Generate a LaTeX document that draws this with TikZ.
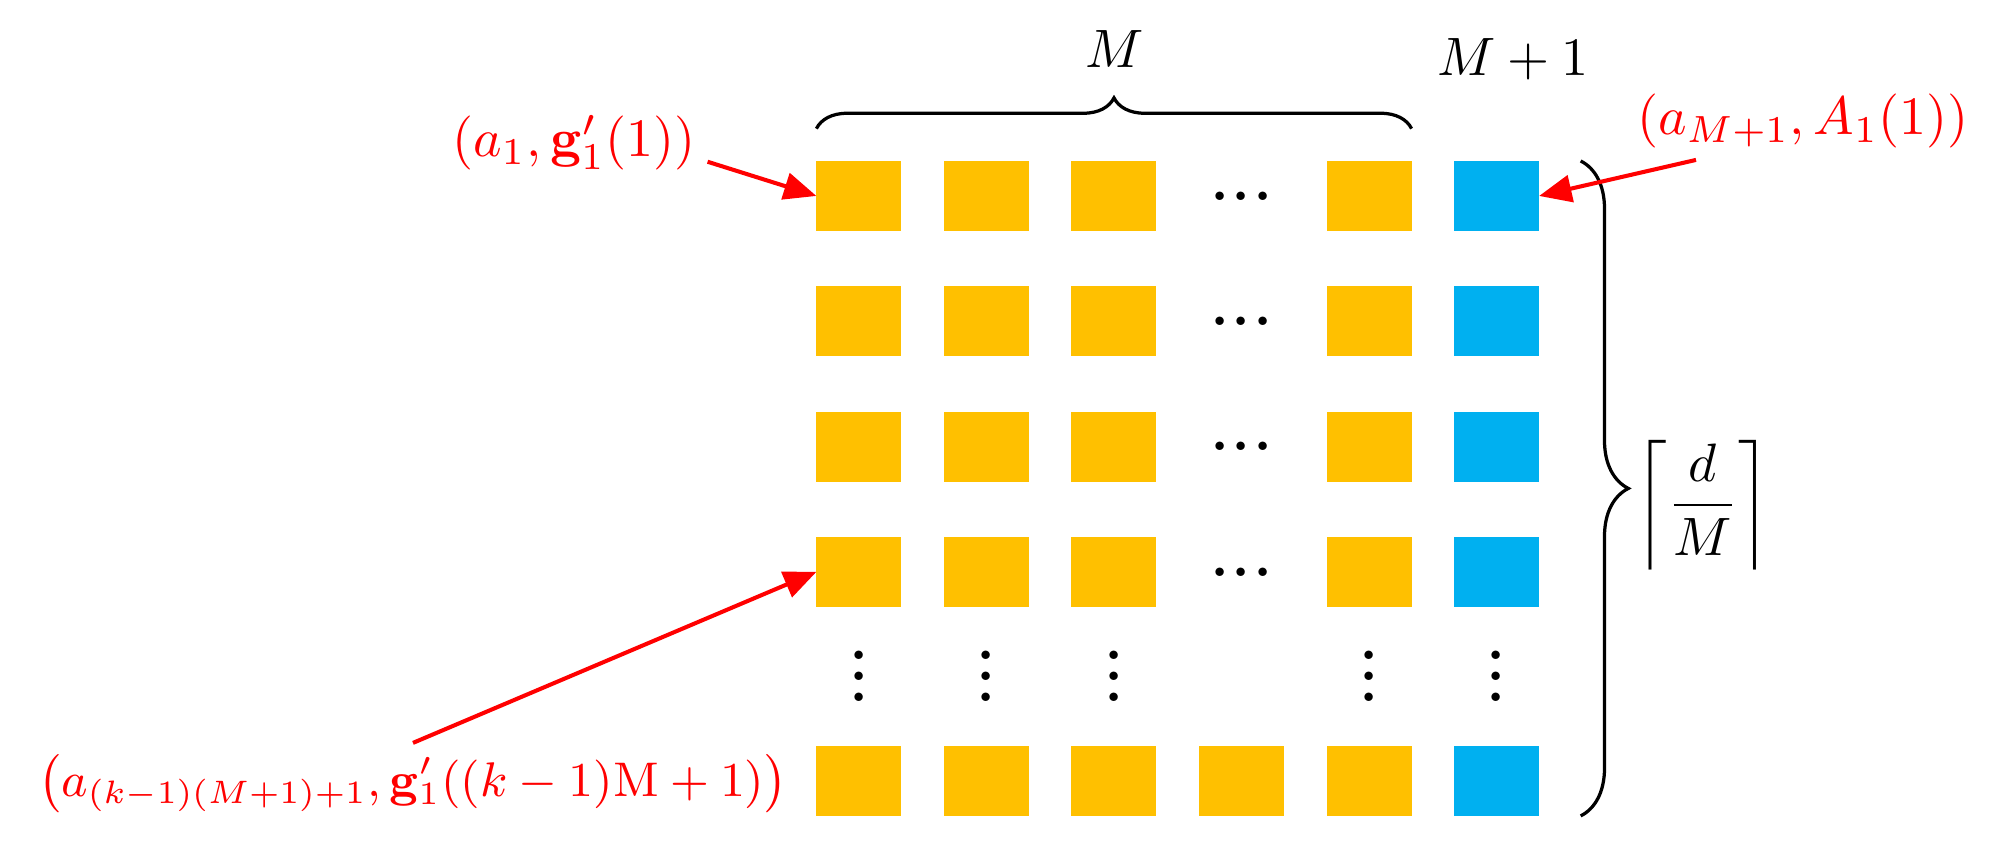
\documentclass[tikz,border=0pt]{standalone}
\usepackage{amsmath}
\usepackage{tikz}
\usetikzlibrary{matrix}
\usetikzlibrary{positioning}
\usetikzlibrary{arrows.meta}
\usetikzlibrary{decorations.pathreplacing}

\definecolor{cellgold}{HTML}{FFC000}
\definecolor{cellblue}{HTML}{00B0F0}

\newcommand{\hdotrow}{\hbox{\bfseries .\kern0.8pt.\kern0.8pt.}}
\newcommand{\vdotcol}{\vbox{\bfseries\baselineskip=3.9pt\lineskiplimit=0pt\hbox{.}\hbox{.}\hbox{.}}}

\begin{document}
\begin{tikzpicture}[x=0.0065cm, y=-0.0065cm,
cell/.style={minimum width=0.5525cm, minimum height=0.455cm, inner sep=0pt, outer sep=0pt},
ybox/.style={cell, fill=cellgold},
bbox/.style={cell, fill=cellblue},
lab/.style={red, inner sep=2pt},
pointer/.style={red, line width=0.75pt, -{Triangle[length=6pt,width=5pt]}},
brc/.style={decorate, line width=0.6pt}]
\useasboundingbox (0,0) rectangle (2000,842);
\matrix (grid) [matrix of nodes, inner sep=0pt, nodes={anchor=center},
column sep={0.829cm,between origins},
row sep={0.81445cm,between origins}] at (1177.75,488.45)
{
|[ybox](g11)|{} & |[ybox]|{} & |[ybox]|{} & \hdotrow & |[ybox](g15)|{} & |[bbox](g16)|{} \\
|[ybox]|{} & |[ybox]|{} & |[ybox]|{} & \hdotrow & |[ybox]|{} & |[bbox]|{} \\
|[ybox]|{} & |[ybox]|{} & |[ybox]|{} & \hdotrow & |[ybox]|{} & |[bbox]|{} \\
|[ybox](g41)|{} & |[ybox]|{} & |[ybox]|{} & \hdotrow & |[ybox]|{} & |[bbox]|{} \\[-0.1352cm]
\vdotcol & \vdotcol & \vdotcol & & \vdotcol & \vdotcol \\[-0.1352cm]
|[ybox]|{} & |[ybox]|{} & |[ybox]|{} & |[ybox]|{} & |[ybox]|{} & |[bbox](g66)|{} \\
};
% braces
\draw[brc, decoration={brace, amplitude=0.2cm}] ([yshift=0.21cm]g11.north west) -- ([yshift=0.21cm]g15.north east);
\draw[brc, decoration={brace, amplitude=0.31cm}] ([xshift=0.27cm]g16.north east) -- ([xshift=0.27cm]g66.south east);
\node[anchor=base] (cols) at (1115,68) {$M$};
\node[anchor=base] (colsp) at (1513,76) {$M+1$};
\node (rows) at (1703,505) {$\left\lceil\dfrac{d}{M}\right\rceil$};
% labels
\node[lab] (first) at (574,143) {$\left(a_1,\mathbf{g}'_1(1)\right)$};
\node[lab] (extra) at (1803,121) {$(a_{M+1},A_1(1))$};
\node[lab, font=\small] (kth) at (413,784) {$\left(a_{(k-1)(M+1)+1},\mathbf{g}'_1((k-1)\mathrm{M}+1)\right)$};
\draw[pointer] (first.-8) -- (g11.west);
\draw[pointer] (extra.200) -- (g16.east);
\draw[pointer] (kth.north) -- (g41.west);
\end{tikzpicture}
\end{document}
